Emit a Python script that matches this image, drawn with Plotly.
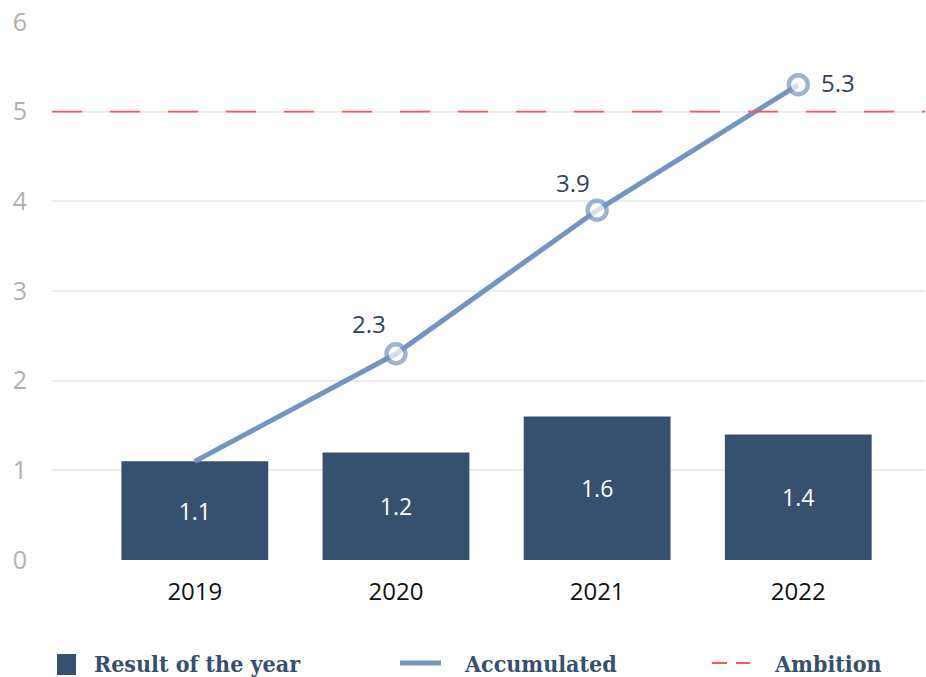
import plotly.graph_objects as go

years = ["2019", "2020", "2021", "2022"]
result_of_year = [1.1, 1.2, 1.6, 1.4]
accumulated = [1.1, 2.3, 3.9, 5.3]
ambition = 5
y_ticks = [0, 1, 2, 3, 4, 5, 6]

bar_color = "#36506f"
line_color = "#7395bf"
ambition_color = "#ff5252"
label_color = "#2f4262"

# plot-area geometry (pixels) used to place the hand-built legend
W, H = 926, 677
ML, MR, MT, MB = 52, 1, 22, 117
PW, PH = W - ML - MR, H - MT - MB


def px_x(px):
    return (px - ML) / PW


def px_y(py):
    return (H - MB - py) / PH


fig = go.Figure()

fig.add_trace(go.Bar(
    x=years, y=result_of_year, name="Result of the year",
    marker=dict(color=bar_color, line=dict(width=0)),
    width=0.73,
    text=[f"{v:.1f}" for v in result_of_year],
    textposition="inside", insidetextanchor="middle",
    textfont=dict(family="Open Sans", size=23, color="white"),
    hoverinfo="skip",
))

# Accumulated line; the first point has no marker
fig.add_trace(go.Scatter(
    x=years, y=accumulated, name="Accumulated",
    mode="lines+markers",
    line=dict(color=line_color, width=5),
    marker=dict(size=[0, 19, 19, 19], color="white",
                line=dict(color=line_color, width=4.5)),
    cliponaxis=False,
    hoverinfo="skip",
))

# value labels for the accumulated points (category index as x position)
label_shift = {"2020": (-27, 30), "2021": (-24, 28), "2022": (40, 2)}
for i, (yr, v) in enumerate(zip(years, accumulated)):
    if yr not in label_shift:
        continue
    dx, dy = label_shift[yr]
    fig.add_annotation(x=i, y=v, xref="x", yref="y", text=f"{v:.1f}",
                       showarrow=False, xshift=dx, yshift=dy,
                       font=dict(family="Open Sans", size=24, color=label_color))

# ambition level
fig.add_shape(type="line", xref="paper", x0=0, x1=1, yref="y",
              y0=ambition, y1=ambition,
              line=dict(color=ambition_color, width=1.8, dash="30px,28px"),
              layer="above")

# legend
legend_font = dict(family="DejaVu Serif Condensed", size=23, color=bar_color,
                   weight="bold")
ly = px_y(663)
fig.add_shape(type="rect", xref="paper", yref="paper",
              x0=px_x(57), x1=px_x(76), y0=px_y(654), y1=px_y(675),
              fillcolor=bar_color, line=dict(width=0))
fig.add_annotation(xref="paper", yref="paper", x=px_x(92), y=ly,
                   xanchor="left", yanchor="middle", showarrow=False,
                   text="Result of the year", font=legend_font)
fig.add_shape(type="line", xref="paper", yref="paper",
              x0=px_x(400), x1=px_x(441), y0=ly, y1=ly,
              line=dict(color=line_color, width=5))
fig.add_annotation(xref="paper", yref="paper", x=px_x(462), y=ly,
                   xanchor="left", yanchor="middle", showarrow=False,
                   text="Accumulated", font=legend_font)
for a, b in [(712, 727), (736, 750)]:
    fig.add_shape(type="line", xref="paper", yref="paper",
                  x0=px_x(a), x1=px_x(b), y0=ly, y1=ly,
                  line=dict(color=ambition_color, width=2))
fig.add_annotation(xref="paper", yref="paper", x=px_x(772), y=ly,
                   xanchor="left", yanchor="middle", showarrow=False,
                   text="Ambition", font=legend_font)

fig.update_layout(
    width=W, height=H,
    margin=dict(l=ML, r=MR, t=MT, b=MB),
    paper_bgcolor="white", plot_bgcolor="white",
    showlegend=False,
    xaxis=dict(
        type="category", range=[-0.71, 3.63], automargin=False,
        showgrid=False, zeroline=False, showline=False,
        ticks="", ticklabelstandoff=15,
        tickfont=dict(family="Open Sans", size=24, color="#111111",
                      weight=500),
    ),
    yaxis=dict(
        range=[0, 6], tickvals=y_ticks, automargin=False,
        showgrid=True, gridcolor="#ececec", gridwidth=1.5,
        zeroline=False, showline=False, ticks="",
        ticklabelstandoff=24,
        tickfont=dict(family="Open Sans", size=25, color="#b0b0b0"),
    ),
)

fig.write_html("out.html")
